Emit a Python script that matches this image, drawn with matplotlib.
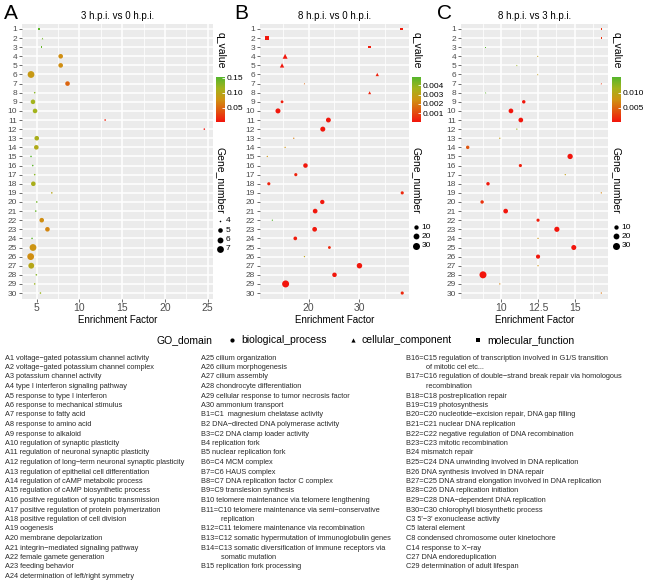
import numpy as np
import matplotlib
matplotlib.use('Agg')
import matplotlib.pyplot as plt
from matplotlib.colors import LinearSegmentedColormap, Normalize
from matplotlib.cm import ScalarMappable

plt.rcParams['font.family'] = ['Liberation Sans', 'DejaVu Sans']

W, H = 650, 585
rows = list(range(1, 31))

# ---------------- data ----------------
a_title = "3 h.p.i. vs 0 h.p.i."
a_x = [5.27, 5.6, 5.55, 7.8, 7.8, 4.33, 8.6, 4.76, 4.56, 4.8, 13.0, 24.6, 5.0, 4.95, 4.33,
       4.53, 4.76, 4.6, 6.76, 5.0, 4.88, 5.58, 6.25, 4.45, 4.56, 4.29, 4.36, 4.95, 4.76, 5.43]
a_genes = [4, 4, 4, 5, 5, 7, 5, 4, 5, 5, 4, 4, 5, 5, 4, 4, 4, 5, 4, 4, 4, 5, 5, 4, 7, 7, 6, 4, 4, 4]
a_q = [0.15, 0.14, 0.145, 0.075, 0.075, 0.085, 0.05, 0.13, 0.115, 0.115, 0.01, 0.0033, 0.11, 0.105, 0.153,
       0.15, 0.13, 0.11, 0.10, 0.14, 0.145, 0.075, 0.07, 0.15, 0.08, 0.075, 0.10, 0.13, 0.12, 0.12]
a_domain = ['MF', 'CC', 'MF'] + ['BP'] * 27

b_title = "8 h.p.i. vs 0 h.p.i."
b_x = [38.3, 11.8, 32.0, 15.4, 14.8, 33.5, 19.2, 32.0, 14.8, 14.0, 23.9, 22.8, 17.1, 15.4, 11.9,
       19.4, 17.5, 12.2, 38.4, 22.7, 21.3, 12.9, 21.2, 17.4, 24.1, 19.2, 30.0, 25.1, 15.5, 38.4]
b_genes = [5, 10, 4, 12, 9, 5, 2, 4, 4, 14, 13, 14, 2, 2, 2, 11, 5, 5, 5, 10, 12, 2, 12, 7, 4, 2, 17, 11, 30, 5]
b_q = [0.0002, 0.0001, 0.0002, 0.0001, 0.0001, 0.0003, 0.0015, 0.0003, 0.0002, 0.0001, 0.0001, 0.0001, 0.002,
       0.0025, 0.0025, 0.0001, 0.0003, 0.0003, 0.0004, 0.0001, 0.0001, 0.0049, 0.0001, 0.0002, 0.0004, 0.003,
       0.0001, 0.0001, 0.00003, 0.0004]
b_domain = ['MF'] * 3 + ['CC'] * 5 + ['BP'] * 22

c_title = "8 h.p.i. vs 3 h.p.i."
c_x = [16.8, 16.8, 8.94, 12.48, 11.06, 12.48, 16.8, 8.94, 11.53, 10.66, 11.33, 11.06, 9.9, 7.72, 14.68,
       11.3, 14.35, 9.1, 16.8, 8.7, 10.3, 12.5, 13.78, 12.5, 14.93, 12.5, 12.5, 8.76, 9.9, 16.8]
c_genes = [2, 2, 2, 2, 2, 2, 2, 2, 6, 12, 12, 2, 2, 6, 16, 5, 2, 6, 2, 6, 12, 5, 15, 2, 14, 9, 2, 30, 2, 2]
c_q = [0.002, 0.002, 0.0153, 0.009, 0.012, 0.009, 0.002, 0.015, 0.0005, 0.0004, 0.0004, 0.012, 0.009, 0.004,
       0.0003, 0.001, 0.009, 0.0006, 0.007, 0.002, 0.0004, 0.0008, 0.0004, 0.008, 0.0004, 0.0005, 0.008,
       0.00033, 0.007, 0.006]
c_domain = ['MF'] * 3 + ['CC'] * 5 + ['BP'] * 22

a_qticks = [0.05, 0.10, 0.15]
a_qlabels = ["0.05", "0.10", "0.15"]
b_qticks = [0.001, 0.002, 0.003, 0.004]
b_qlabels = ["0.001", "0.002", "0.003", "0.004"]
c_qticks = [0.005, 0.010]
c_qlabels = ["0.005", "0.010"]
a_sizes_legend = [4, 5, 6, 7]
b_sizes_legend = [10, 20, 30]
c_sizes_legend = [10, 20, 30]

a_xticks = [5, 10, 15, 20, 25]
b_xticks = [20, 30]
c_xticks = [10, 12.5, 15]
c_xticklabels = ["10", "12.5", "15"]

domains = ['BP', 'CC', 'MF']
domain_names = ['biological_process', 'cellular_component', 'molecular_function']
domain_markers = {'BP': 'o', 'CC': '^', 'MF': 's'}

col1 = ["A1 voltage\u2212gated potassium channel activity",
        "A2 voltage\u2212gated potassium channel complex",
        "A3 potassium channel activity",
        "A4 type I interferon signaling pathway",
        "A5 response to type I interferon",
        "A6 response to mechanical stimulus",
        "A7 response to fatty acid",
        "A8 response to amino acid",
        "A9 response to alkaloid",
        "A10 regulation of synaptic plasticity",
        "A11 regulation of neuronal synaptic plasticity",
        "A12 regulation of long\u2212term neuronal synaptic plasticity",
        "A13 regulation of epithelial cell differentiation",
        "A14 regulation of cAMP metabolic process",
        "A15 regulation of cAMP biosynthetic process",
        "A16 positive regulation of synaptic transmission",
        "A17 positive regulation of protein polymerization",
        "A18 positive regulation of cell division",
        "A19 oogenesis",
        "A20 membrane depolarization",
        "A21 integrin\u2212mediated signaling pathway",
        "A22 female gamete generation",
        "A23 feeding behavior",
        "A24 determination of left/right symmetry"]
col2 = ["A25 cilium organization",
        "A26 cilium morphogenesis",
        "A27 cilium assembly",
        "A28 chondrocyte differentiation",
        "A29 cellular response to tumor necrosis factor",
        "A30 ammonium transport",
        "B1=C1  magnesium chelatase activity",
        "B2 DNA\u2212directed DNA polymerase activity",
        "B3=C2 DNA clamp loader activity",
        "B4 replication fork",
        "B5 nuclear replication fork",
        "B6=C4 MCM complex",
        "B7=C6 HAUS complex",
        "B8=C7 DNA replication factor C complex",
        "B9=C9 translesion synthesis",
        "B10 telomere maintenance via telomere lengthening",
        "B11=C10 telomere maintenance via semi\u2212conservative",
        "          replication",
        "B12=C11 telomere maintenance via recombination",
        "B13=C12 somatic hypermutation of immunoglobulin genes",
        "B14=C13 somatic diversification of immune receptors via",
        "          somatic mutation",
        "B15 replication fork processing"]
col3 = ["B16=C15 regulation of transcription involved in G1/S transition",
        "          of mitotic cel etc...",
        "B17=C16 regulation of double\u2212strand break repair via homologous",
        "          recombination",
        "B18=C18 postreplication repair",
        "B19=C19 photosynthesis",
        "B20=C20 nucleotide\u2212excision repair, DNA gap filling",
        "B21=C21 nuclear DNA replication",
        "B22=C22 negative regulation of DNA recombination",
        "B23=C23 mitotic recombination",
        "B24 mismatch repair",
        "B25=C24 DNA unwinding involved in DNA replication",
        "B26 DNA synthesis involved in DNA repair",
        "B27=C25 DNA strand elongation involved in DNA replication",
        "B28=C26 DNA replication initiation",
        "B29=C28 DNA\u2212dependent DNA replication",
        "B30=C30 chlorophyll biosynthetic process",
        "C3 5'\u22123' exonuclease activity",
        "C5 lateral element",
        "C8 condensed chromosome outer kinetochore",
        "C14 response to X\u2212ray",
        "C27 DNA endoreduplication",
        "C29 determination of adult lifespan"]

# ---------------- helpers ----------------
cmap = LinearSegmentedColormap.from_list(
    'qv', [(0.0, '#f2140c'), (0.25, '#e0560e'), (0.5, '#cf9312'), (0.75, '#a3b31c'), (1.0, '#55b52c')])
PX = 72.0 / 100.0  # points per pixel


def rect(l, t, r, b):
    return [l / W, 1 - b / H, (r - l) / W, (b - t) / H]


def ft(x, y, s, **kw):
    return fig.text(x / W, 1 - y / H, s, **kw)


def size_fn(genes, dmin, dmax):
    lo, hi = min(genes), max(genes)

    def f(v):
        v = np.asarray(v, float)
        return (dmin + (dmax - dmin) * np.sqrt((v - lo) / (hi - lo))) * PX
    return f


fig = plt.figure(figsize=(W / 100, H / 100), dpi=100)
fig.patch.set_facecolor('white')

panels = [
    dict(letter='A', title=a_title, x=a_x, g=a_genes, q=a_q, d=a_domain, xt=a_xticks, xtl=None,
         l=22, r=213, qt=a_qticks, ql=a_qlabels, sl=a_sizes_legend, dmin=1.6, dmax=6.8,
         leg_x=216, lett_x=4),
    dict(letter='B', title=b_title, x=b_x, g=b_genes, q=b_q, d=b_domain, xt=b_xticks, xtl=None,
         l=260, r=409, qt=b_qticks, ql=b_qlabels, sl=b_sizes_legend, dmin=1.3, dmax=7.0,
         leg_x=412, lett_x=234),
    dict(letter='C', title=c_title, x=c_x, g=c_genes, q=c_q, d=c_domain, xt=c_xticks, xtl=c_xticklabels,
         l=461, r=608, qt=c_qticks, ql=c_qlabels, sl=c_sizes_legend, dmin=1.3, dmax=7.0,
         leg_x=612, lett_x=437),
]

TOP, BOT = 23.5, 298.5
for p in panels:
    ax = fig.add_axes(rect(p['l'], TOP, p['r'], BOT))
    ax.set_facecolor('#EBEBEB')
    for s in ax.spines.values():
        s.set_visible(False)
    xs = np.array(p['x'])
    span = xs.max() - xs.min()
    ax.set_xlim(xs.min() - 0.05 * span, xs.max() + 0.05 * span)
    ax.set_ylim(30.6, 0.4)
    norm = Normalize(vmin=min(p['q']), vmax=max(p['q']))
    sf = size_fn(p['g'], p['dmin'], p['dmax'])
    for dom in domains:
        idx = [i for i, d in enumerate(p['d']) if d == dom]
        if not idx:
            continue
        mk = domain_markers[dom]
        sz = sf([p['g'][i] for i in idx]) ** 2
        if mk == 's':
            sz = sz * 0.8
        elif mk == '^':
            sz = sz * 1.1
        ax.scatter([p['x'][i] for i in idx], [rows[i] for i in idx], s=sz,
                   c=[cmap(norm(p['q'][i])) for i in idx], marker=mk, linewidths=0, zorder=3)
    # grid
    ax.set_xticks(p['xt'])
    if p['xtl']:
        ax.set_xticklabels(p['xtl'])
    xt = p['xt']
    step = xt[1] - xt[0]
    minors = [xt[0] - step / 2 + k * step for k in range(-2, len(xt) + 3)]
    lo, hi = ax.get_xlim()
    minors = [m for m in minors if lo < m < hi]
    ax.set_xticks(minors, minor=True)
    ax.set_yticks(rows)
    ax.set_yticklabels([str(r) for r in rows])
    ax.grid(which='major', color='white', linewidth=1.1, zorder=0)
    ax.grid(which='minor', axis='x', color='white', linewidth=0.55, zorder=0)
    ax.set_axisbelow(True)
    ax.tick_params(axis='y', labelsize=6, labelcolor='#4d4d4d', length=2, width=0.5, color='#333333', pad=1.5)
    ax.tick_params(axis='x', which='major', labelsize=7.5, labelcolor='#4d4d4d', length=2, width=0.5,
                   color='#333333', pad=1.5)
    ax.tick_params(axis='x', which='minor', length=0)
    ax.set_title(p['title'], fontsize=7, pad=3.5)
    ax.set_xlabel('Enrichment Factor', fontsize=7, labelpad=1.5)
    ft(p['lett_x'], 13.5, p['letter'], fontsize=15, va='center', ha='left')

    # colour legend
    lx = p['leg_x']
    ft(lx + 4.5, 50, 'q_value', fontsize=7.5, rotation=270, ha='center', va='center')
    cax = fig.add_axes(rect(lx, 77, lx + 9, 122))
    cb = fig.colorbar(ScalarMappable(norm=norm, cmap=cmap), cax=cax)
    cb.outline.set_visible(False)
    cb.set_ticks(p['qt'])
    cb.set_ticklabels(p['ql'])
    cax.tick_params(labelsize=6, length=2, width=0.6, color='white', direction='in', pad=1.5)

    # size legend
    ft(lx + 4.5, 180, 'Gene_number', fontsize=7.5, rotation=270, ha='center', va='center')
    n = len(p['sl'])
    y0 = 221 if n == 4 else 227
    lax = fig.add_axes(rect(lx - 4, y0 - 6, lx + 26, y0 + 9.3 * n))
    lax.set_xlim(lx - 4, lx + 26)
    lax.set_ylim(y0 + 9.3 * n, y0 - 6)
    lax.axis('off')
    for k, g in enumerate(p['sl']):
        yy = y0 + k * 9.3
        lax.scatter([lx + 4], [yy], s=sf([g]) ** 2, c='black', marker='o', linewidths=0)
        lax.text(lx + 9.5, yy, str(g), fontsize=6, va='center', ha='left')

# GO domain legend
gax = fig.add_axes(rect(0, 330, W, 350))
gax.set_xlim(0, W)
gax.set_ylim(350, 330)
gax.axis('off')
gax.text(212, 340, 'GO_domain', fontsize=7.5, ha='right', va='center')
for mk, xm, name in zip(['o', '^', 's'], [232, 353, 478], domain_names):
    gax.scatter([xm], [340], s=(4.2 * PX) ** 2 * (0.8 if mk == 's' else 1.0), c='black', marker=mk,
                linewidths=0)
    gax.text(xm + 9, 340, name, fontsize=7.5, ha='left', va='center')

# annotation columns
LS = 9.5
for xcol, lines in zip([5, 201, 406], [col1, col2, col3]):
    for k, line in enumerate(lines):
        ft(xcol, 358 + k * LS, line, fontsize=5.35, color='#2a2a2a', va='center', ha='left')

fig.savefig('out.png', dpi=100)
